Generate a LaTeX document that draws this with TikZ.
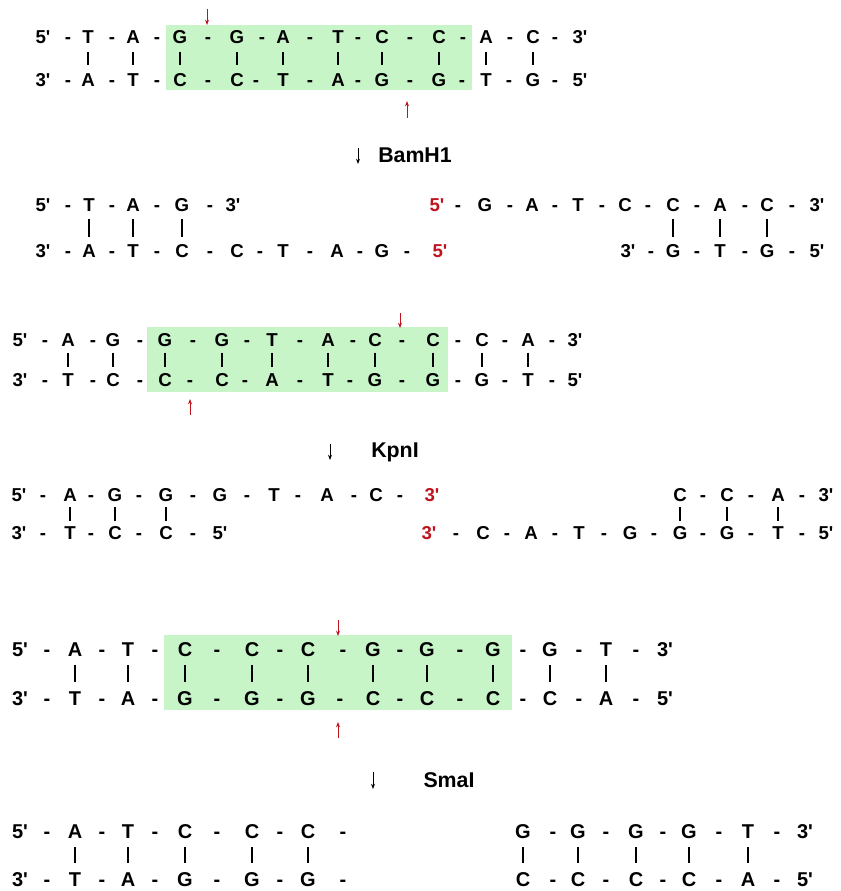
\documentclass[tikz,border=0pt]{standalone}
\usepackage{fontspec}
\setmainfont{Liberation Sans}[Ligatures=TeXOff]
\usepackage{xcolor}
\usepackage{tikz}
\usetikzlibrary{arrows.meta}

\definecolor{sitegreen}{RGB}{200,245,200}
\definecolor{cutred}{RGB}{190,20,30}
\newcommand{\rend}[1]{\textcolor{cutred}{#1}}
% one strand: [style]{prefix}{y}{x/text,...}
\newcommand{\strand}[4][nt]{%
  \foreach \xx/\txt [count=\k] in {#4}
    \node[#1] (#2-\k) at (\xx,#3) {\txt};%
}

\begin{document}
\begin{tikzpicture}[x=0.75pt, y=-0.75pt,
  nt/.style={inner sep=0pt, text height=10pt, text depth=0pt,
             font=\bfseries\fontsize{14}{14}\selectfont},
  ntbig/.style={nt, text height=10.7pt, font=\bfseries\fontsize{15}{15}\selectfont},
  bond/.style={line width=0.9pt, shorten <=#1, shorten >=#1},
  cut/.style={draw=cutred, line width=0.6pt, -{Stealth[length=4pt, width=3pt]}},
  enz/.style={line width=0.6pt, -{Stealth[length=4pt, width=3pt]}},
  lbl/.style={inner sep=0pt, font=\bfseries\fontsize{16}{16}\selectfont},
  site/.style={fill=sitegreen},
]
  \useasboundingbox (0,0) rectangle (841,891);

  % recognition sites
  \fill[site] (166,25) rectangle (472,90);
  \fill[site] (147,327) rectangle (448,392);
  \fill[site] (164,635) rectangle (512,710);

  % BamH1 site
  \strand{s1t}{37}{43/5',68/-,88/T,112/-,133/A,157/-,180/G,208/-,237/G,262/-,283/A,310/-,338/T,358/-,382/C,410/-,439/C,463/-,486/A,510/-,533/C,555/-,580/3'}
  \strand{s1b}{80}{43/3',68/-,88/A,112/-,133/T,157/-,180/C,208/-,237/C,256/-,283/T,310/-,338/A,358/-,382/G,410/-,439/G,462/-,486/T,509/-,533/G,555/-,580/5'}
  \foreach \i in {3,5,...,21} \draw[bond=6pt] (s1t-\i) -- (s1b-\i);
  \coordinate (c1a) at (207,9);   \coordinate (c1b) at (207,25);
  \coordinate (c1c) at (407,118); \coordinate (c1d) at (407,101);
  \draw[cut] (c1a) -- (c1b);
  \draw[cut] (c1c) -- (c1d);

  \coordinate (e1a) at (358,148); \coordinate (e1b) at (358,164);
  \draw[enz] (e1a) -- (e1b);
  \node[lbl] (bam) at (415,155) {BamH1};

  % BamH1 fragments
  \strand{s2lt}{205}{43/5',68/-,89/T,112/-,133/A,157/-,182/G,210/-,233/3'}
  \strand{s2lb}{251}{43/3',68/-,89/A,112/-,133/T,157/-,182/C,210/-,237/C,260/-,283/T,310/-,337/A,360/-,382/G,407/-,440/\rend{5'}}
  \foreach \i in {3,5,7} \draw[bond=5.5pt] (s2lt-\i) -- (s2lb-\i);
  \strand{s2rt}{205}{437/\rend{5'},458/-,485/G,510/-,532/A,555/-,578/T,602/-,625/C,648/-,673/C,697/-,720/A,745/-,767/C,792/-,817/3'}
  \strand{s2rb}{251}{628/3',651/-,673/G,697/-,720/T,745/-,767/G,792/-,817/5'}
  \foreach \i/\j in {11/3,13/5,15/7} \draw[bond=5.5pt] (s2rt-\i) -- (s2rb-\j);

  % KpnI site
  \strand{s3t}{340}{20/5',45/-,68/A,93/-,113/G,140/-,165/G,193/-,222/G,247/-,272/T,300/-,328/A,353/-,375/C,402/-,433/C,458/-,482/C,505/-,528/A,552/-,575/3'}
  \strand{s3b}{380}{20/3',45/-,68/T,93/-,113/C,140/-,165/C,190/-,222/C,245/-,272/A,300/-,328/T,350/-,375/G,402/-,433/G,458/-,482/G,505/-,528/T,552/-,575/5'}
  \foreach \i in {3,5,...,21} \draw[bond=4.3pt] (s3t-\i) -- (s3b-\i);
  \coordinate (c3a) at (400,313); \coordinate (c3b) at (400,328);
  \coordinate (c3c) at (190,415); \coordinate (c3d) at (190,399);
  \draw[cut] (c3a) -- (c3b);
  \draw[cut] (c3c) -- (c3d);

  \coordinate (e3a) at (330,444); \coordinate (e3b) at (330,460);
  \draw[enz] (e3a) -- (e3b);
  \node[lbl] (kpn) at (395,452) {KpnI};

  % KpnI fragments
  \strand{s4lt}{495}{19/5',43/-,70/A,91/-,115/G,139/-,166/G,193/-,220/G,247/-,274/T,298/-,327/A,354/-,376/C,400/-,432/\rend{3'}}
  \strand{s4lb}{533}{19/3',43/-,70/T,91/-,115/C,139/-,166/C,193/-,220/5'}
  \foreach \i in {3,5,7} \draw[bond=4pt] (s4lt-\i) -- (s4lb-\i);
  \strand{s4rt}{495}{680/C,703/-,727/C,751/-,778/A,802/-,826/3'}
  \strand{s4rb}{533}{429/\rend{3'},456/-,483/C,507/-,531/A,555/-,579/T,604/-,630/G,654/-,680/G,703/-,727/G,751/-,778/T,802/-,826/5'}
  \foreach \i/\j in {1/11,3/13,5/15} \draw[bond=4pt] (s4rt-\i) -- (s4rb-\j);

  % SmaI site
  \strand[ntbig]{s5t}{649}{20/5',47/-,75/A,102/-,128/T,155/-,185/C,217/-,252/C,280/-,308/C,343/-,373/G,400/-,427/G,460/-,493/G,523/-,550/G,579/-,606/T,636/-,665/3'}
  \strand[ntbig]{s5b}{698}{20/3',47/-,75/T,102/-,128/A,155/-,185/G,217/-,252/G,280/-,308/G,340/-,373/C,400/-,427/C,460/-,493/C,523/-,550/C,579/-,606/A,636/-,665/5'}
  \foreach \i in {3,5,...,21} \draw[bond=6.6pt] (s5t-\i) -- (s5b-\i);
  \coordinate (c5a) at (338,620); \coordinate (c5b) at (338,636);
  \coordinate (c5c) at (338,738); \coordinate (c5d) at (338,722);
  \draw[cut] (c5a) -- (c5b);
  \draw[cut] (c5c) -- (c5d);

  \coordinate (e5a) at (373,772); \coordinate (e5b) at (373,789);
  \draw[enz] (e5a) -- (e5b);
  \node[lbl] (sma) at (449,780) {SmaI};

  % SmaI fragments (blunt)
  \strand[ntbig]{s6lt}{831}{20/5',47/-,75/A,102/-,128/T,155/-,185/C,217/-,252/C,280/-,308/C,343/-}
  \strand[ntbig]{s6lb}{879}{20/3',47/-,75/T,102/-,128/A,155/-,185/G,217/-,252/G,280/-,308/G,343/-}
  \foreach \i in {3,5,...,11} \draw[bond=6.6pt] (s6lt-\i) -- (s6lb-\i);
  \strand[ntbig]{s6rt}{831}{523/G,553/-,578/G,606/-,636/G,663/-,689/G,719/-,748/T,777/-,805/3'}
  \strand[ntbig]{s6rb}{879}{523/C,553/-,578/C,606/-,636/C,663/-,689/C,719/-,748/A,777/-,805/5'}
  \foreach \i in {1,3,...,9} \draw[bond=6.6pt] (s6rt-\i) -- (s6rb-\i);
\end{tikzpicture}
\end{document}
